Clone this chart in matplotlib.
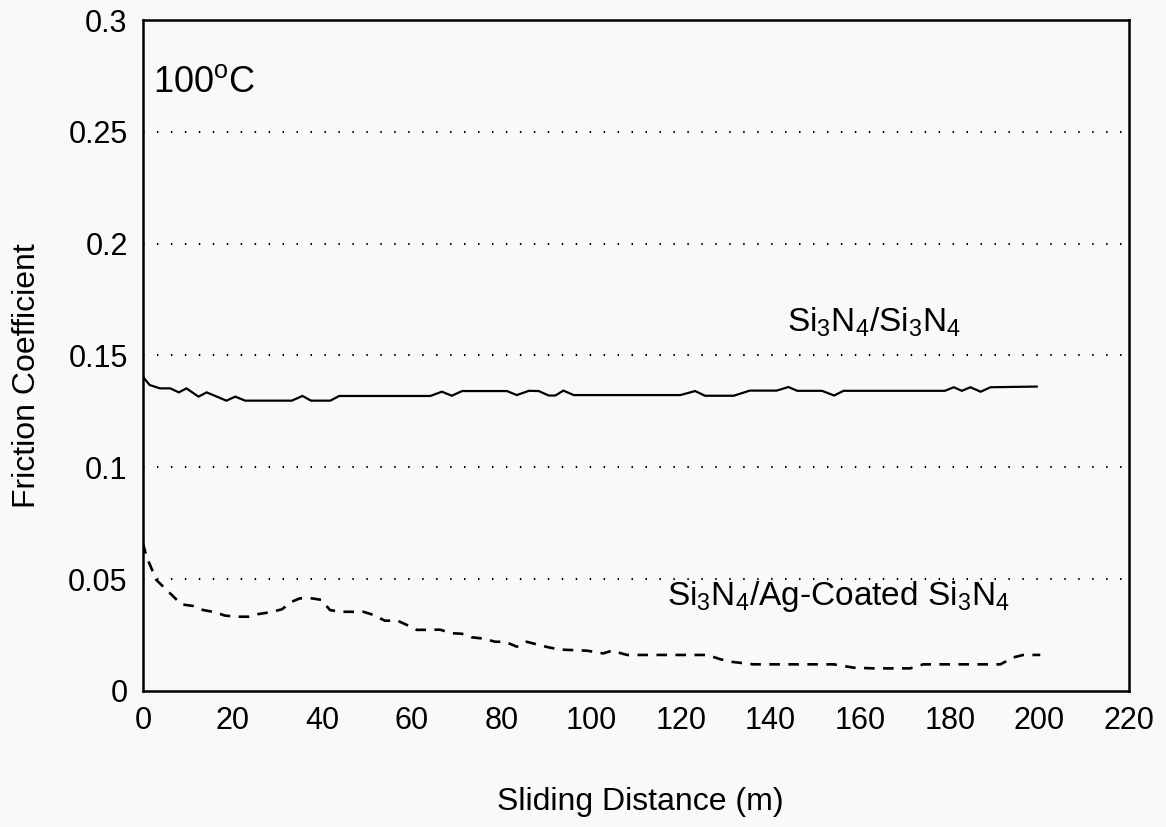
import matplotlib
matplotlib.use("Agg")
import matplotlib.pyplot as plt

plt.rcParams['font.family'] = ['Liberation Sans', 'DejaVu Sans']
plt.rcParams['mathtext.fontset'] = 'custom'
plt.rcParams['mathtext.rm'] = 'Liberation Sans'
plt.rcParams['mathtext.it'] = 'Liberation Sans:italic'

# %% data
dist_si = [0, 1.5, 3.8, 6.1, 8.0, 9.7, 12.4, 14.2, 16.5, 18.6, 20.6, 22.8,
           33.2, 35.6, 37.5, 41.8, 43.8, 64.1, 66.7, 68.9, 71.2, 81.2, 83.4,
           86.1, 88.3, 90.5, 92.0, 93.8, 96.1, 119.9, 123.2, 125.4, 131.8,
           135.4, 141.4, 144.0, 146.0, 151.5, 154.2, 156.3, 178.9, 180.9,
           182.7, 184.6, 186.9, 189.1, 199.4]
mu_si = [0.1405, 0.1368, 0.1353, 0.1353, 0.1335, 0.1353, 0.1316, 0.1335,
         0.1316, 0.1298, 0.1316, 0.1298, 0.1298, 0.1319, 0.1298, 0.1298,
         0.1319, 0.1319, 0.1338, 0.1320, 0.1341, 0.1341, 0.1323, 0.1342,
         0.1341, 0.1321, 0.1321, 0.1343, 0.1323, 0.1323, 0.1341, 0.1320,
         0.1320, 0.1343, 0.1343, 0.1359, 0.1342, 0.1342, 0.1321, 0.1342,
         0.1342, 0.1358, 0.1342, 0.1358, 0.1338, 0.1358, 0.1361]

dist_ag = [0, 0.8, 3.0, 4.9, 6.8, 8.6, 11.2, 13.4, 16.1, 18.3, 20.9, 23.5,
           25.8, 28.4, 31.0, 33.2, 35.0, 37.7, 39.9, 41.7, 43.9, 49.2, 51.4,
           54.0, 56.7, 58.9, 61.1, 66.3, 68.9, 71.1, 73.3, 76.0, 78.6, 80.8,
           83.4, 85.6, 88.3, 90.5, 93.1, 99.1, 102.7, 104.6, 108.0, 125.9,
           128.8, 131.0, 136.2, 154.1, 158.6, 163.0, 171.2, 174.1, 191.3,
           194.2, 196.4, 200.2]
mu_ag = [0.066, 0.060, 0.0496, 0.0459, 0.0422, 0.0387, 0.038, 0.0362,
         0.0352, 0.0337, 0.0332, 0.0332, 0.0344, 0.0352, 0.0365, 0.0399,
         0.0414, 0.0414, 0.0407, 0.0362, 0.0354, 0.0354, 0.034, 0.0314,
         0.0315, 0.0295, 0.0273, 0.0274, 0.0258, 0.0256, 0.024, 0.0234,
         0.022, 0.022, 0.0198, 0.022, 0.0206, 0.0195, 0.0185, 0.018,
         0.0168, 0.018, 0.0161, 0.0161, 0.0142, 0.0131, 0.0119, 0.0119,
         0.0104, 0.0101, 0.0101, 0.0119, 0.0119, 0.0150, 0.0161, 0.0161]

x_ticks = [0, 20, 40, 60, 80, 100, 120, 140, 160, 180, 200, 220]
y_ticks = [0, 0.05, 0.1, 0.15, 0.2, 0.25, 0.3]
y_tick_labels = ['0', '0.05', '0.1', '0.15', '0.2', '0.25', '0.3']

# %% plot
bg = '#f9f9f9'
fig = plt.figure(figsize=(11.66, 8.27), dpi=100, facecolor=bg)
ax = fig.add_axes([0.1226, 0.1645, 0.8457, 0.8113], facecolor=bg)

ax.plot(dist_si, mu_si, color='black', lw=1.6, solid_joinstyle='miter')
ax.plot(dist_ag, mu_ag, color='black', lw=1.9, dashes=(4, 3.2))

ax.set_xlim(0, 220)
ax.set_ylim(0, 0.3)
ax.set_xticks(x_ticks)
ax.set_yticks(y_ticks)
ax.set_yticklabels(y_tick_labels)
ax.tick_params(length=0, labelsize=22, pad=11)

for yv in y_ticks[1:-1]:
    ax.axhline(yv, color='black', lw=1.5, linestyle=(0, (0.7, 6)), zorder=0.5)

for s in ax.spines.values():
    s.set_linewidth(1.8)

ax.set_xlabel('Sliding Distance (m)', fontsize=23)
ax.xaxis.set_label_coords(0.504, -0.143)
ax.set_ylabel('Friction Coefficient', fontsize=23)
ax.yaxis.set_label_coords(-0.102, 0.47)

ax.text(2.2, 0.2678, r'100$^{\mathrm{o}}$C', fontsize=26, ha='left', va='baseline')
ax.text(143.7, 0.1605, r'Si$_{3}$N$_{4}$/Si$_{3}$N$_{4}$', fontsize=24,
        ha='left', va='baseline')
ax.text(117, 0.0384, r'Si$_{3}$N$_{4}$/Ag-Coated Si$_{3}$N$_{4}$', fontsize=24,
        ha='left', va='baseline')

fig.savefig('out.png', dpi=100, facecolor=bg)
